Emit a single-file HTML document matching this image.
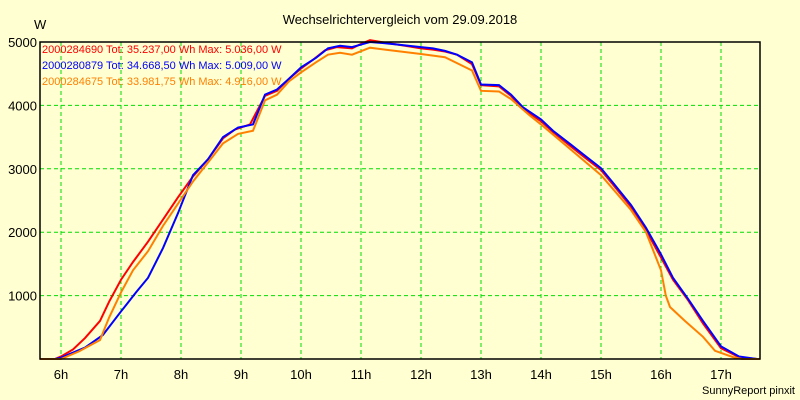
<!DOCTYPE html>
<html><head><meta charset="utf-8"><style>
body{margin:0;background:#FFFFD2;}
svg{display:block;font-family:"Liberation Sans",sans-serif;}
</style></head><body>
<svg id="c" width="800" height="400">
<rect x="0" y="0" width="800" height="400" fill="#FFFFD2"/>
<text x="400" y="24" font-size="13" text-anchor="middle">Wechselrichtervergleich vom 29.09.2018</text>
<text x="34" y="29" font-size="13">W</text>
<text x="795" y="394" font-size="11" text-anchor="end">SunnyReport pinxit</text>
<g id="grid"></g><g id="series"></g><g id="axes"></g>
<g font-size="11">
<text x="42" y="53" fill="#FF0000">2000284690 Tot: 35.237,00 Wh Max: 5.036,00 W</text>
<text x="42" y="69" fill="#0000FF">2000280879 Tot: 34.668,50 Wh Max: 5.009,00 W</text>
<text x="42" y="85" fill="#FF8000">2000284675 Tot: 33.981,75 Wh Max: 4.916,00 W</text>
</g>
</svg>
<script>
const xTicks=[6,7,8,9,10,11,12,13,14,15,16,17];
const yTicks=[1000,2000,3000,4000,5000];
const redT=[5.65,5.9,6.0,6.2,6.4,6.65,6.8,7.0,7.2,7.45,7.7,7.95,8.2,8.45,8.7,8.9,9.15,9.4,9.6,9.8,10.0,10.2,10.4,10.6,10.85,11.0,11.15,11.4,11.6,11.8,12.0,12.2,12.4,12.6,12.85,13.0,13.3,13.5,13.7,14.0,14.2,14.5,14.7,15.0,15.2,15.5,15.75,16.0,16.2,16.45,16.7,17.0,17.3,17.6];
const redV=[0,0,40,150,330,600,900,1250,1530,1850,2200,2550,2880,3150,3480,3620,3700,4150,4230,4420,4580,4720,4870,4920,4900,4970,5030,4990,4960,4930,4900,4880,4850,4800,4650,4320,4300,4150,3950,3750,3580,3350,3200,2980,2750,2400,2030,1600,1250,930,560,170,30,0];
const blueT=[5.65,5.9,6.0,6.4,6.7,7.0,7.25,7.45,7.7,7.95,8.2,8.45,8.7,8.95,9.2,9.4,9.6,9.8,10.0,10.25,10.45,10.65,10.85,11.0,11.15,11.4,11.6,12.0,12.2,12.4,12.6,12.85,13.0,13.3,13.5,13.7,14.0,14.2,14.5,14.7,15.0,15.2,15.5,15.75,16.0,16.2,16.45,16.7,17.0,17.3,17.6];
const blueV=[0,0,20,180,380,750,1050,1280,1750,2300,2900,3150,3500,3650,3700,4170,4250,4420,4600,4750,4900,4940,4920,4960,5000,4980,4960,4920,4900,4860,4800,4680,4330,4320,4170,3970,3780,3600,3380,3230,3010,2780,2430,2070,1650,1280,950,600,200,40,0];
const orangeT=[5.65,6.0,6.3,6.65,6.8,7.0,7.2,7.45,7.7,7.95,8.2,8.45,8.7,8.95,9.2,9.4,9.6,9.8,10.0,10.25,10.45,10.65,10.85,11.15,11.4,12.0,12.4,12.85,13.0,13.3,13.5,13.8,14.0,14.5,15.0,15.5,15.75,16.0,16.08,16.15,16.4,16.7,16.9,17.2,17.35,17.65];
const orangeV=[0,0,120,300,650,1050,1400,1700,2100,2450,2800,3100,3400,3550,3600,4080,4170,4380,4520,4680,4800,4830,4800,4910,4880,4810,4760,4550,4230,4220,4100,3850,3700,3300,2900,2350,2000,1400,1000,820,600,350,130,30,0,0];
const L=40,R=760,T=42,B=359;
const xs=h=>L+(h-5.65)*60;
const ys=v=>B-(v/5000)*(B-T);
const NS="http://www.w3.org/2000/svg";
function mk(tag,parent){const e=document.createElementNS(NS,tag);document.getElementById(parent).appendChild(e);return e;}
xTicks.forEach(h=>{
 const l=mk('line','grid');l.setAttribute('x1',xs(h));l.setAttribute('x2',xs(h));l.setAttribute('y1',T);l.setAttribute('y2',B);
 l.setAttribute('stroke','#00DD00');l.setAttribute('stroke-dasharray','4,3');
 
 
 const t=mk('text','axes');t.setAttribute('x',xs(h));t.setAttribute('y',B+20);t.setAttribute('font-size','13');t.setAttribute('text-anchor','middle');t.textContent=h+'h';
 
 
});
yTicks.forEach(v=>{
 const l=mk('line','grid');l.setAttribute('x1',L);l.setAttribute('x2',R);l.setAttribute('y1',ys(v));l.setAttribute('y2',ys(v));
 l.setAttribute('stroke','#00DD00');l.setAttribute('stroke-dasharray','4,3');
 
 
 const t=mk('text','axes');t.setAttribute('x',L-3);t.setAttribute('y',ys(v)+5);t.setAttribute('font-size','13');t.setAttribute('text-anchor','end');t.textContent=v;
 
 
});
[[redT,redV,'#FF0000','series-red'],[blueT,blueV,'#0000FF','series-blue'],[orangeT,orangeV,'#FF8000','series-orange']].forEach(([t,v,c,n])=>{
 const p=mk('polyline','series');p.setAttribute('points',t.map((h,i)=>xs(h)+','+ys(v[i])).join(' '));
 p.setAttribute('fill','none');p.setAttribute('stroke',c);p.setAttribute('stroke-width','2');
 
 
});
const fr=mk('rect','axes');fr.setAttribute('x',L);fr.setAttribute('y',T);fr.setAttribute('width',R-L);fr.setAttribute('height',B-T);
fr.setAttribute('fill','none');fr.setAttribute('stroke','#000');fr.setAttribute('stroke-width','1.5');


</script>
</body></html>
